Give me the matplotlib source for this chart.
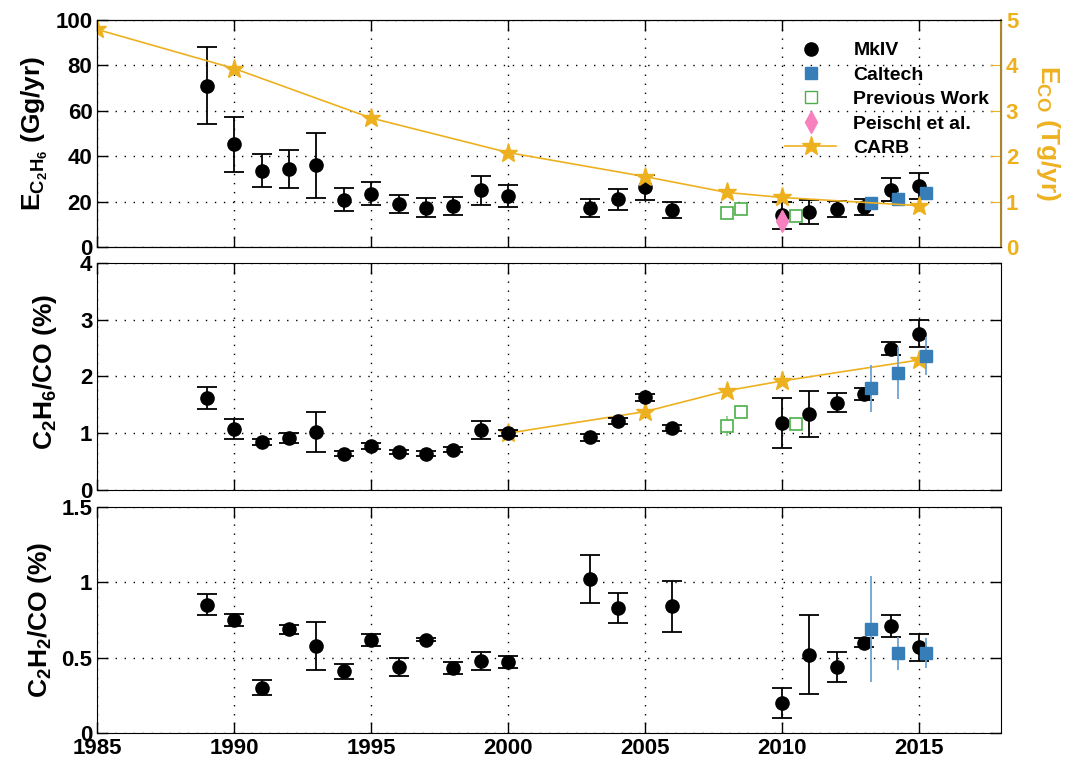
import numpy as np
import matplotlib
matplotlib.use("Agg")
import matplotlib.pyplot as plt
from matplotlib.lines import Line2D

plt.rcParams["font.family"] = ["Liberation Sans", "DejaVu Sans"]
plt.rcParams["font.weight"] = "bold"
plt.rcParams["mathtext.fontset"] = "custom"
plt.rcParams["mathtext.rm"] = "Liberation Sans:bold"
plt.rcParams["mathtext.it"] = "Liberation Sans:bold"
plt.rcParams["mathtext.bf"] = "Liberation Sans:bold"
plt.rcParams["mathtext.default"] = "bf"

# ---- MkIV ----
mk_years = [1989, 1990, 1991, 1992, 1993, 1994, 1995, 1996, 1997, 1998, 1999, 2000,
            2003, 2004, 2005, 2006, 2010, 2011, 2012, 2013, 2014, 2015]
mk_emis = [71, 45.2, 33.6, 34.4, 36, 20.9, 23.5, 19, 17.2, 18, 25, 22.4,
           17, 21, 26.2, 16.2, 14, 15.2, 16.7, 17.8, 25.3, 27]
mk_emis_err = [17, 12.2, 7.2, 8.4, 14.3, 4.9, 5, 4, 4.2, 4, 6.3, 4.8,
               4, 4.5, 5.3, 3.5, 6, 5.3, 3.5, 3.5, 5, 5.8]
mk_c2h6 = [1.62, 1.07, 0.85, 0.92, 1.02, 0.64, 0.77, 0.67, 0.64, 0.71, 1.05, 1.0,
           0.93, 1.22, 1.63, 1.09, 1.18, 1.34, 1.54, 1.69, 2.49, 2.75]
mk_c2h6_err = [0.2, 0.18, 0.05, 0.09, 0.35, 0.05, 0.05, 0.04, 0.05, 0.04, 0.16, 0.05,
               0.06, 0.05, 0.06, 0.06, 0.44, 0.4, 0.17, 0.1, 0.11, 0.24]
mk_c2h2 = [0.85, 0.75, 0.30, 0.69, 0.58, 0.41, 0.62, 0.44, 0.62, 0.43, 0.48, 0.47,
           1.02, 0.83, None, 0.84, 0.20, 0.52, 0.44, 0.60, 0.71, 0.57]
mk_c2h2_err = [0.07, 0.04, 0.05, 0.03, 0.16, 0.05, 0.04, 0.06, 0.01, 0.04, 0.06, 0.04,
               0.16, 0.1, 0, 0.17, 0.1, 0.26, 0.1, 0.03, 0.07, 0.09]

# ---- Caltech ----
ct_years = [2013.25, 2014.25, 2015.25]
ct_emis = [19.3, 21.3, 23.6]
ct_emis_err = [2.5, 3, 2.5]
ct_c2h6 = [1.79, 2.06, 2.36]
ct_c2h6_err = [0.41, 0.46, 0.34]
ct_c2h2 = [0.69, 0.53, 0.53]
ct_c2h2_err = [0.35, 0.11, 0.1]

# ---- Previous work ----
pw_years = [2008.0, 2008.5, 2010.5]
pw_emis = [15, 16.7, 13.5]
pw_c2h6 = [1.13, 1.38, 1.17]
pw_c2h6_err = [0.18, 0.12, 0.0]

# ---- Peischl et al. ----
pe_years = [2010.0]
pe_emis = [11.4]

# ---- CARB ----
carb_years = [1985, 1990, 1995, 2000, 2005, 2008, 2010, 2015]
carb_co = [4.79, 3.93, 2.84, 2.08, 1.55, 1.2, 1.09, 0.91]
carb_ratio_years = [2000, 2005, 2008, 2010, 2015]
carb_ratio = [1.0, 1.38, 1.75, 1.92, 2.29]

BLUE = "#377eb8"
GREEN = "#4daf4a"
PINK = "#f781bf"
ORANGE = "#EDB120"
SPINE_OR = "#a8862c"

fig = plt.figure(figsize=(10.69, 7.67), dpi=100)
left, width = 0.091, 0.8454
ax1 = fig.add_axes([left, 0.678, width, 0.296])
ax2 = fig.add_axes([left, 0.3612, width, 0.296])
ax3 = fig.add_axes([left, 0.0443, width, 0.2947])

mk_kw = dict(fmt="o", color="k", ms=9.5, ecolor="k", elinewidth=1.3, capsize=7, capthick=1.3)
ct_kw = dict(fmt="s", color=BLUE, ms=8, ecolor="#6fa3d3", elinewidth=1.3, capsize=0)


def style(ax, ylim, yticks, ylabel, ylx, yly):
    ax.set_xlim(1985, 2018)
    ax.set_ylim(*ylim)
    ax.set_yticks(yticks)
    ax.set_xticks([1985, 1990, 1995, 2000, 2005, 2010, 2015])
    ax.grid(True, linestyle=(0, (1, 5.5)), color="k", linewidth=1.0)
    ax.tick_params(direction="in", length=8, width=1, labelsize=16, top=True, right=True)
    for lab in ax.get_xticklabels() + ax.get_yticklabels():
        lab.set_fontweight("bold")
    ax.set_ylabel(ylabel, fontsize=19, fontweight="bold")
    ax.yaxis.set_label_coords(ylx, yly)


def mk_points(ax, vals, errs):
    xs = [x for x, v in zip(mk_years, vals) if v is not None]
    ys = [v for v in vals if v is not None]
    es = [e for v, e in zip(vals, errs) if v is not None]
    ax.errorbar(xs, ys, yerr=es, zorder=3, **mk_kw)


# ================= Top panel =================
mk_points(ax1, mk_emis, mk_emis_err)
ax1.plot(pw_years, pw_emis, "s", mfc="white", mec=GREEN, ms=8, mew=1.2, zorder=4)
ax1.plot(pe_years, pe_emis, "d", color=PINK, ms=11, zorder=5)
ax1.errorbar(ct_years, ct_emis, yerr=ct_emis_err, zorder=4, **ct_kw)
style(ax1, (0, 100), [0, 20, 40, 60, 80, 100], r"$E_{C_2H_6}$ (Gg/yr)", -0.052, 0.5)
ax1.set_xticklabels([])
ax1.tick_params(right=False)

ax1r = ax1.twinx()
ax1r.plot(carb_years, carb_co, "-*", color=ORANGE, ms=14, lw=1.2)
ax1r.set_ylim(0, 5)
ax1r.set_yticks([0, 1, 2, 3, 4, 5])
ax1r.tick_params(direction="in", length=8, colors=ORANGE, labelsize=16)
for lab in ax1r.get_yticklabels():
    lab.set_fontweight("bold")
ax1r.spines["right"].set_color(SPINE_OR)
ax1r.spines["right"].set_linewidth(1.5)
ax1r.set_ylabel(r"$E_{CO}$ (Tg/yr)", color=ORANGE, fontsize=19, fontweight="bold", rotation=-90)
ax1r.yaxis.set_label_coords(1.068, 0.5)

handles = [
    Line2D([], [], marker="o", color="k", ls="none", ms=9.5),
    Line2D([], [], marker="s", color=BLUE, ls="none", ms=8),
    Line2D([], [], marker="s", mfc="white", mec=GREEN, ls="none", ms=8),
    Line2D([], [], marker="d", color=PINK, ls="none", ms=11),
    Line2D([], [], marker="*", color=ORANGE, ls="-", ms=14, lw=1.2),
]
labels = ["MkIV", "Caltech", "Previous Work", "Peischl et al.", "CARB"]
ax1r.legend(handles, labels, loc="upper right", bbox_to_anchor=(1.0, 0.955), frameon=False,
            prop={"size": 14, "weight": "bold"}, labelspacing=0.35, handlelength=2.6,
            handletextpad=0.9, borderaxespad=0.2)

# ================= Middle panel =================
ax2.plot(carb_ratio_years, carb_ratio, "-*", color=ORANGE, ms=14, lw=1.2, zorder=2.5)
mk_points(ax2, mk_c2h6, mk_c2h6_err)
ax2.errorbar(pw_years, pw_c2h6, yerr=pw_c2h6_err, fmt="s", mfc="white", mec=GREEN, ms=8,
             mew=1.2, ecolor="#8fcf8c", elinewidth=1.3, capsize=0, zorder=4)
ax2.errorbar(ct_years, ct_c2h6, yerr=ct_c2h6_err, zorder=4, **ct_kw)
style(ax2, (0, 4), [0, 1, 2, 3, 4], r"$C_2H_6$/CO (%)", -0.042, 0.52)
ax2.set_xticklabels([])

# ================= Bottom panel =================
mk_points(ax3, mk_c2h2, mk_c2h2_err)
ax3.errorbar(ct_years, ct_c2h2, yerr=ct_c2h2_err, zorder=4, **ct_kw)
style(ax3, (0, 1.5), [0, 0.5, 1, 1.5], r"$C_2H_2$/CO (%)", -0.048, 0.5)
ax3.set_yticklabels(["0", "0.5", "1", "1.5"])
for lab in ax3.get_yticklabels():
    lab.set_fontweight("bold")

fig.savefig("out.png", dpi=100)
